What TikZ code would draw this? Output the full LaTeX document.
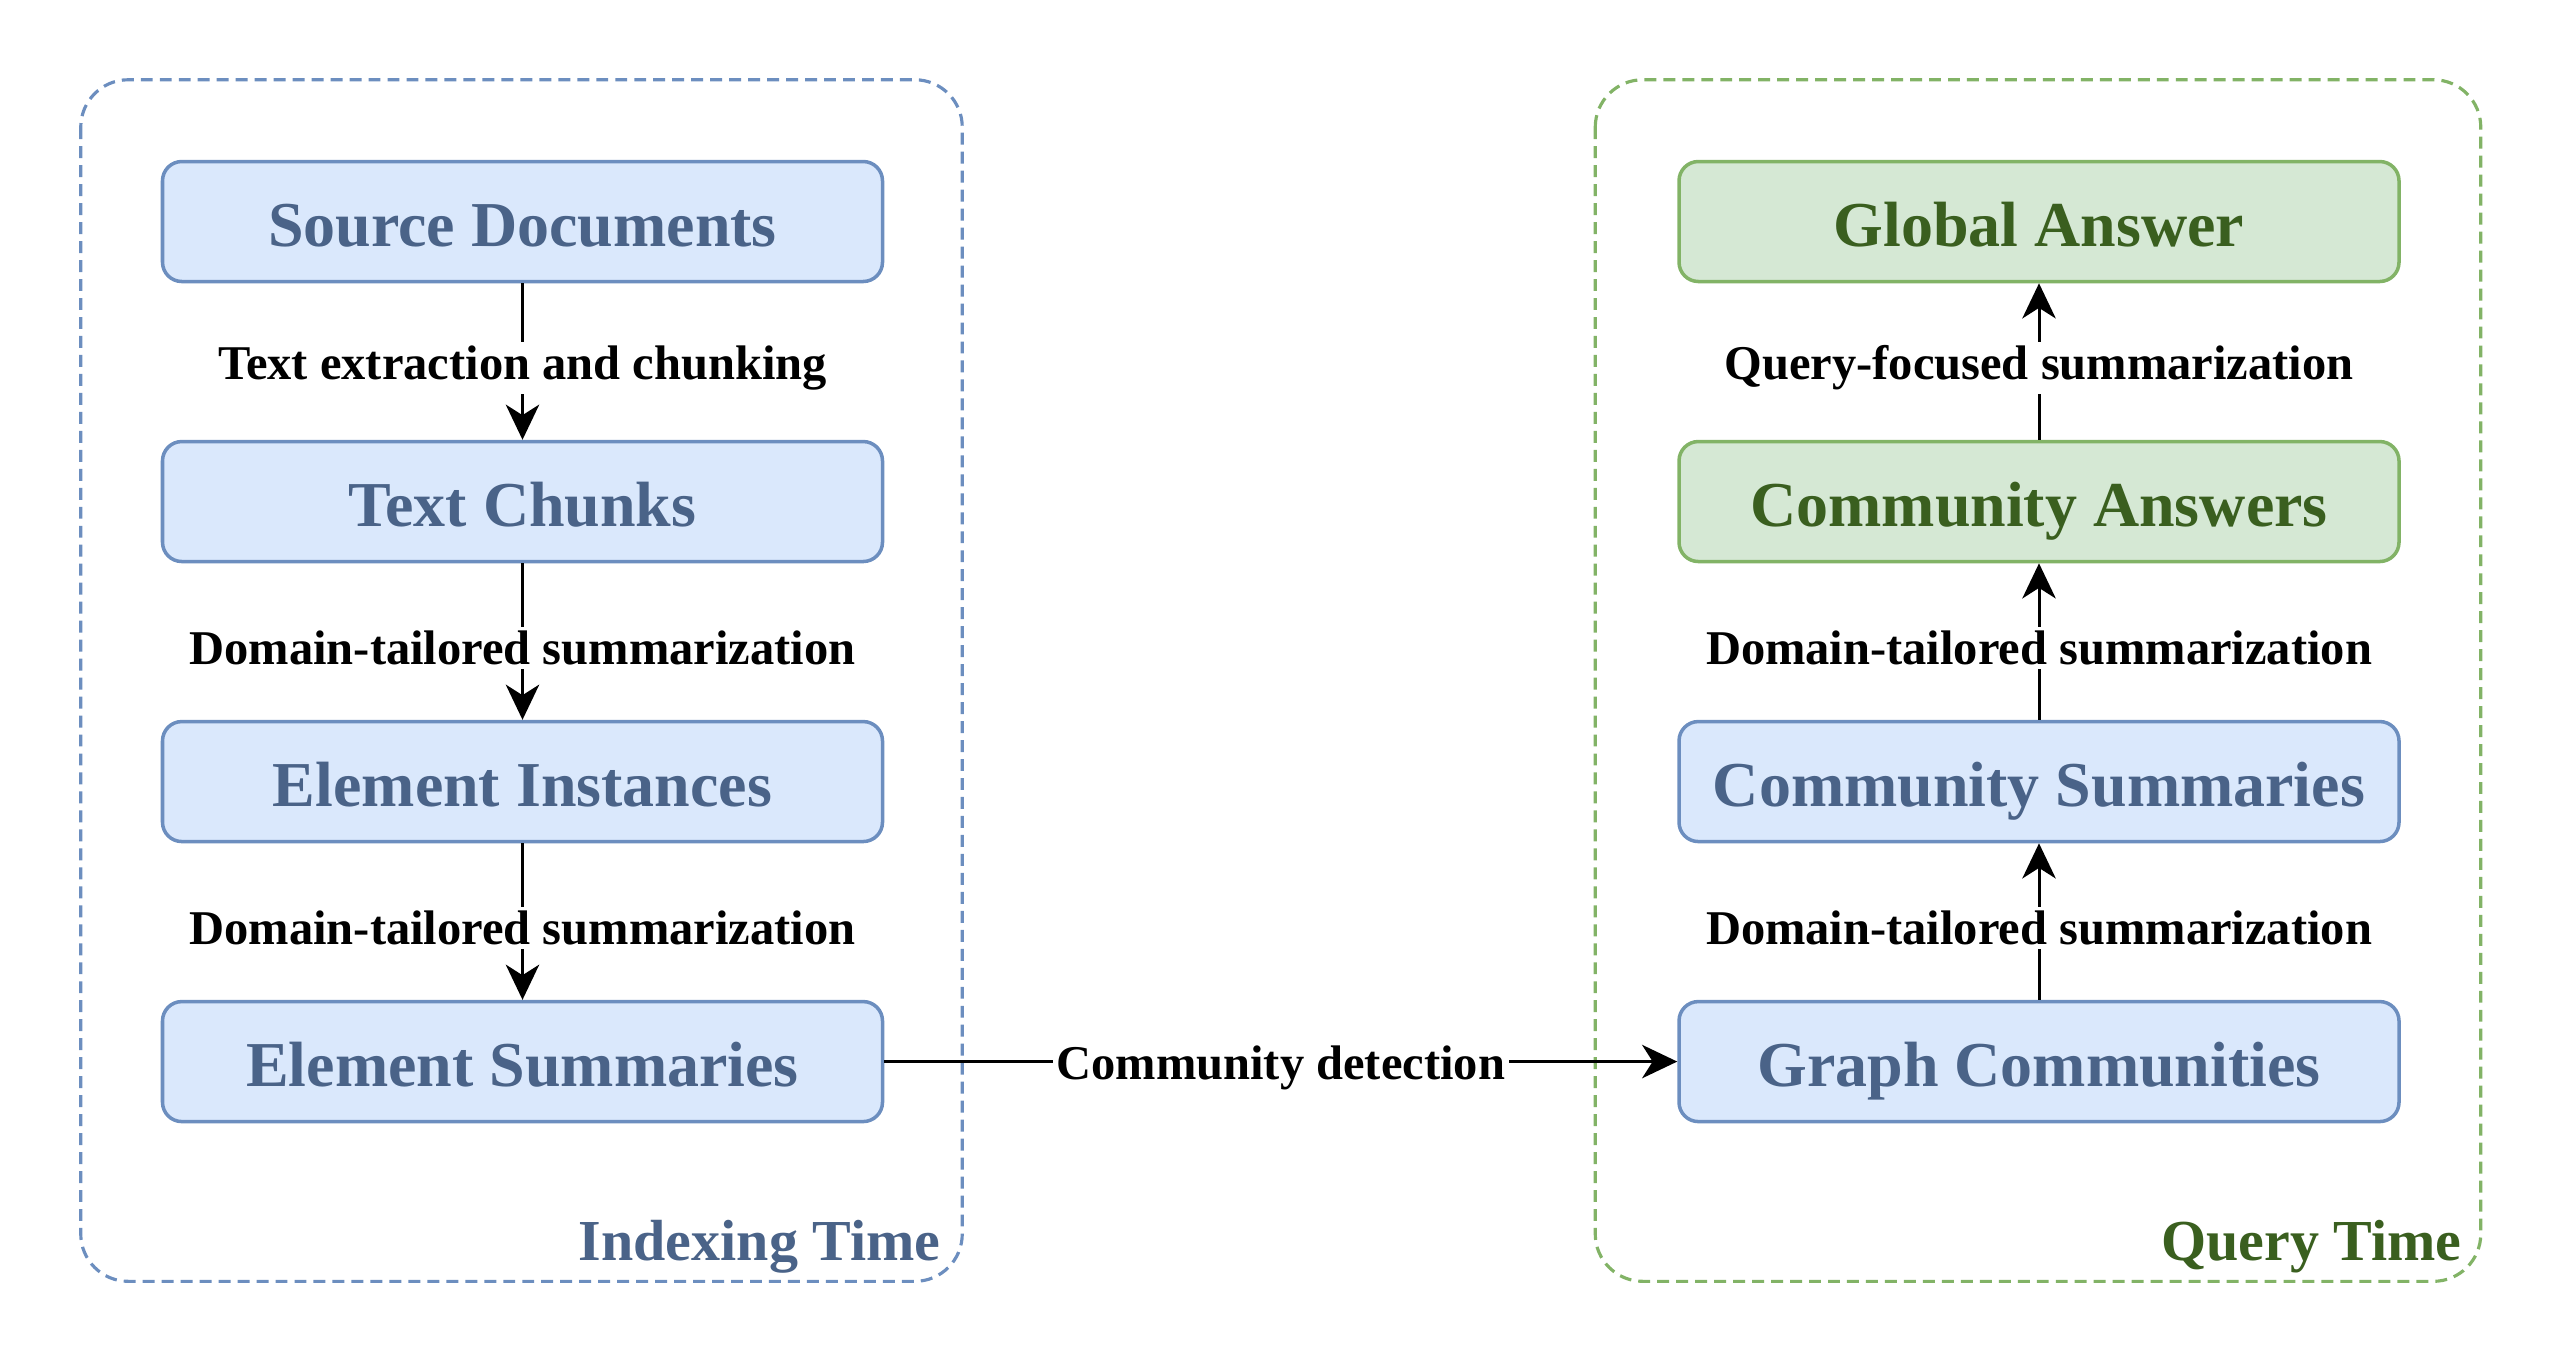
\documentclass[tikz,border=0pt]{standalone}
\usepackage{fontspec}
\setmainfont{Liberation Serif}
\usepackage{tikz}
\usetikzlibrary{calc,arrows.meta,positioning}
\definecolor{blfill}{HTML}{DAE8FC}
\definecolor{bldraw}{HTML}{6C8EBF}
\definecolor{bltext}{HTML}{4A6388}
\definecolor{grfill}{HTML}{D5E8D4}
\definecolor{grdraw}{HTML}{82B366}
\definecolor{grtext}{HTML}{3A5F1F}

\begin{document}
\begin{tikzpicture}[
    box/.style={draw=bldraw,fill=blfill,text=bltext,line width=1pt,rounded corners=5.5pt,
      minimum width=7.2cm,minimum height=1.2cm,inner sep=0pt,text height=17pt,text depth=3pt,
      font=\fontsize{18.2}{20}\selectfont\bfseries},
    ansbox/.style={box,draw=grdraw,fill=grfill,text=grtext},
    flow/.style={-{Stealth[length=10pt,width=9.5pt,inset=3pt]},line width=0.85pt},
    lbl/.style={fill=white,inner sep=1pt,yshift=-1.8pt,font=\fontsize{13.8}{15}\selectfont\bfseries},
    group/.style={dash pattern=on 3.4pt off 2pt,line width=0.9pt,rounded corners=13.5pt},
    grouplbl/.style={anchor=base east,inner sep=0pt,font=\fontsize{16.5}{18}\selectfont\bfseries}]
  \useasboundingbox (0,0) rectangle (25.64,-13.64);

  % indexing side
  \node[box] (src) at (5.225,-2.215) {Source Documents};
  \node[box,below=1.565cm of src] (chk) {Text Chunks};
  \node[box,below=1.565cm of chk] (inst) {Element Instances};
  \node[box,below=1.565cm of inst] (esum) {Element Summaries};

  % query side
  \node[ansbox] (glob) at (20.39,-2.215) {Global Answer};
  \node[ansbox,below=1.565cm of glob] (cans) {Community Answers};
  \node[box,below=1.565cm of cans] (csum) {Community Summaries};
  \node[box,below=1.565cm of csum] (gcom) {Graph Communities};

  \draw[group,bldraw] ($(src.north west)+(-0.8,0.8)$) rectangle ($(esum.south east)+(0.78,-1.58)$);
  \draw[group,grdraw] ($(glob.north west)+(-0.82,0.8)$) rectangle ($(gcom.south east)+(0.8,-1.58)$);
  \node[grouplbl,text=bltext] (itime) at (9.41,-12.60) {Indexing Time};
  \node[grouplbl,text=grtext] (qtime) at (24.62,-12.60) {Query Time};

  \draw[flow] (src) -- node[lbl] {Text extraction and chunking} (chk);
  \draw[flow] (chk) -- node[lbl] {Domain-tailored summarization} (inst);
  \draw[flow] (inst) -- node[lbl] {Domain-tailored summarization} (esum);
  \draw[flow] (esum) -- node[lbl] {Community detection} (gcom);
  \draw[flow] (gcom) -- node[lbl] {Domain-tailored summarization} (csum);
  \draw[flow] (csum) -- node[lbl] {Domain-tailored summarization} (cans);
  \draw[flow] (cans) -- node[lbl] {Query-focused summarization} (glob);
\end{tikzpicture}
\end{document}
